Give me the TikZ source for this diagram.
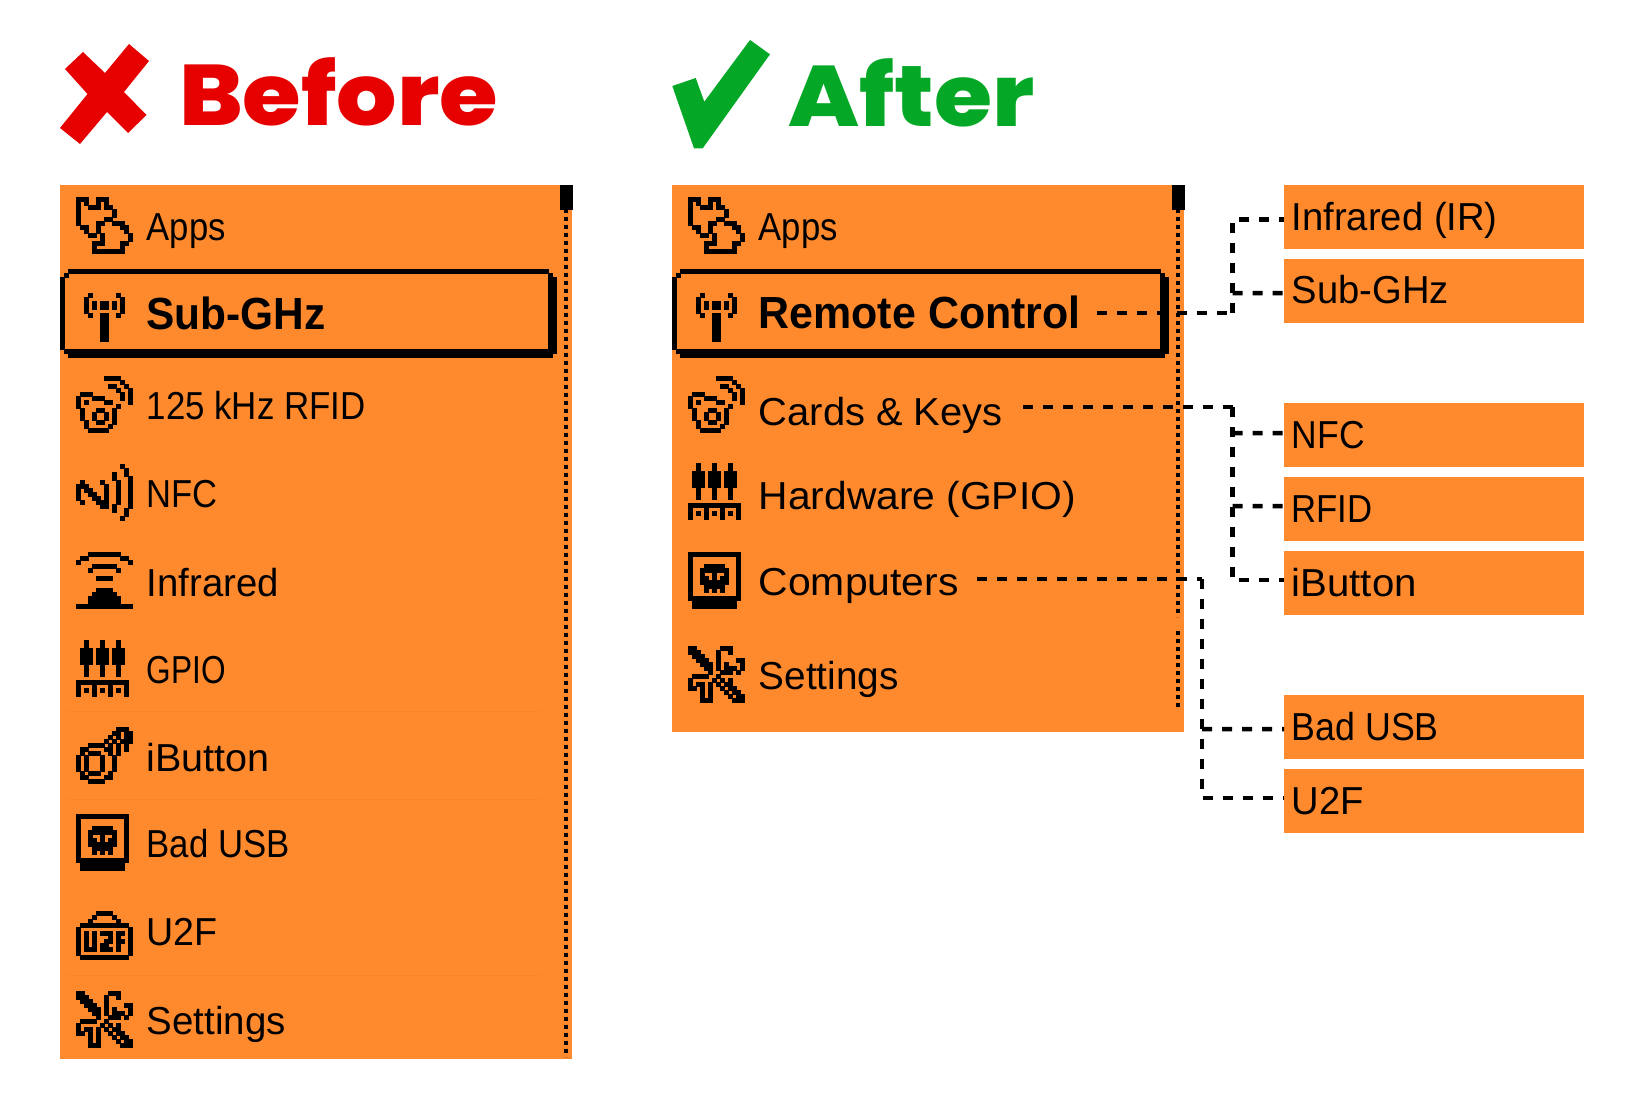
\documentclass[tikz,border=0pt]{standalone}
\usepackage{fontspec}
\usepackage{graphicx}
\setmainfont{Liberation Sans}
\newfontfamily\titlefont{Poppins ExtraBold}
\definecolor{panel}{HTML}{FF8A2E}
\definecolor{hair}{HTML}{F8852C}
\definecolor{xred}{HTML}{E60000}
\definecolor{okgreen}{HTML}{05A826}
\newcount\pxc
\def\pxscan#1{\ifx#1;\else\if#1X\fill[pixel] (\the\numexpr4*\pxc\relax,\the\numexpr4*\i\relax) rectangle ++(4,4);\fi\global\advance\pxc by 1 \expandafter\pxscan\fi}
\newcommand\pxicon[3]{\begin{scope}[shift={(#1,#2)}]\foreach \r [count=\i from 0] in {#3}{\global\pxc=0 \expandafter\pxscan\r;}\end{scope}}
\newcommand\fitw[2]{\resizebox{\dimexpr#1pt+3pt\relax}{\height}{#2}}
\newcommand\fitb[2]{\resizebox{\dimexpr#1pt+3pt\relax}{\height}{\bfseries #2}}
\newcommand\fitt[2]{\resizebox{#1pt}{\height}{#2}}
% icons
\newcommand\iapps[2]{\pxicon{#1}{#2}{XXXooXXXoooooo,XoXooXoXoooooo,XooXXXoXXooooo,XooooooooXoooo,XooooooooXoooo,XooooooXXooooo,XooooXXooXXXoo,oXXooXoooooXXo,ooXooXooooooXo,oooXXoXooooooX,ooooooXooooooX,ooooXXXooooXXo,ooooXooooooXoo,ooooXXXXXXXXoo}}
\newcommand\iant[2]{\pxicon{#1}{#2}{oXooooooXo,XooooooooX,XoXoXXoXoX,XoXoXXoXoX,XooooooooX,oXooXXooXo,ooooXXoooo,ooooXXoooo,ooooXXoooo,ooooXXoooo,ooooXXoooo,ooooXXoooo}}
\newcommand\irfid[2]{\pxicon{#1}{#2}{oooooooXXXXooo,oooooooooooXoo,ooooooooXXooXo,ooooooooooXooX,oXXXoooooooXoX,XoooXXXooooXoX,XoXooooXXooooX,XoooooooooXooo,oXoooXXooXoooo,oXooXooXoXoooo,oXooXooXoXoooo,ooXooXXooXoooo,ooXoooooXooooo,oooXXXXXoooooo}}
\newcommand\infc[2]{\pxicon{#1}{#2}{oooooooooooXoo,ooooooooooooXo,oooooooooXooXo,oooooooooXoooX,oXooooXoooXooX,XXXooooXooXooX,XoXXoooXooXooX,XooXXooXooXooX,XoooXXoXooXooX,oXoooXXXooXooX,ooooooXXoXoooX,oooooooooXooXo,ooooooooooooXo,oooooooooooXoo}}
\newcommand\iir[2]{\pxicon{#1}{#2}{oooXXXXXXXXooo,oXXooooooooXXo,XooooooooooooX,ooooXXXXXXoooo,oooXooooooXooo,o,oooooXXXXooooo,o,o,oooooXXXXooooo,ooooXXXXXXoooo,oooXXXXXXXXooo,oooXXXXXXXXooo,XXXXXXXXXXXXXX}}
\newcommand\igpio[2]{\pxicon{#1}{#2}{ooXoooXoooXoo,ooXoooXoooXoo,oXXXoXXXoXXXo,oXXXoXXXoXXXo,oXXXoXXXoXXXo,oXXXoXXXoXXXo,ooXoooXoooXoo,ooXoooXoooXoo,ooXoooXoooXoo,o,XXXXXXXXXXXXX,XoooXoooXoooX,XoXoXoXoXoXoX,XoooXoooXoooX}}
\newcommand\ibtn[2]{\pxicon{#1}{#2}{ooooooooooXXXo,oooooooooXXoXX,ooooooooXoXoXX,oooooooXoXoXXX,oooXXXXoXoXoXo,oXXooooXXoXoXo,oXoXXXooXoXooo,XoXoooXooXoooo,XoXoooXooXoooo,XoXoooXooXoooo,XoXoooXooXoooo,oXoXXXooXooooo,oXXooooXXooooo,oooXXXXooooooo}}
\newcommand\ibad[2]{\pxicon{#1}{#2}{XXXXXXXXXXXXX,XoooooooooooX,XoooooooooooX,XoooXXXXXoooX,XooXXXXXXXooX,XooXooXooXooX,XooXXoXoXXooX,XooXXXXXXXooX,XoooXXXXXoooX,XoooXoXoXoooX,XoooooooooooX,XXXXXXXXXXXXX,oXXXXXXXXXXXo,oXXXXXXXXXXXo}}
\newcommand\iuf[2]{\pxicon{#1}{#2}{oooooXXXXooooo,ooooXooooXoooo,oooXooooooXooo,oXXXXXXXXXXXXo,XooooooooooooX,XoXoXoXXXoXXoX,XoXoXoooXoXooX,XoXoXooXXoXXoX,XoXoXoXXooXooX,XoXXXoXXXoXooX,XooooooooooooX,oXXXXXXXXXXXXo}}
\newcommand\iset[2]{\pxicon{#1}{#2}{XXooooooXXXooo,XXXooooXooXooo,oXXXoooXoooooo,ooXXXooXooooXX,oooXXXoXoXoooX,ooooXXoXoXXXoX,oooooXooXXXoXo,oXXXXooXoooooo,XoooooXoXoXooo,XoXXoXoXoXXooo,XXoXoXooXoXXoo,oooXoXoooXoXXo,oooXoXooooXoXX,oooXXXoooooXXX}}
\newcommand\selframe[1]{\begin{scope}[xshift=#1pt]
\fill[pixel] (68,269) rectangle (548,273);
\fill[pixel] (64,273) rectangle (68,277);
\fill[pixel] (60,277) rectangle (64,349);
\fill[pixel] (64,349) rectangle (68,353);
\fill[pixel] (548,273) rectangle (552,277);
\fill[pixel] (548,277) rectangle (556,353);
\fill[pixel] (68,349) rectangle (552,357);
\end{scope}}
\tikzset{
 pixel/.style={fill=black,draw=black,line width=.15pt},
 menu/.style={anchor=base west,inner sep=0pt,xshift=-1.5pt,text=black,font=\fontsize{39}{39}\selectfont},
 menubold/.style={anchor=base west,inner sep=0pt,xshift=-1.5pt,text=black,font=\fontsize{45}{45}\selectfont},
 title/.style={anchor=base west,inner sep=0pt,font=\titlefont\fontsize{86}{86}\selectfont},
 panelbox/.style={fill=panel,draw=none},
 sidebox/.style={fill=panel,draw=none,inner sep=0pt,minimum width=300pt,minimum height=64pt,anchor=north west},
 conn/.style={draw=black,line width=4.5pt,dash pattern=on 10pt off 10pt},
 scrolldots/.style={draw=black,line width=4pt,dash pattern=on 4pt off 4pt},
 hairline/.style={draw=hair,line width=1pt}
}
\begin{document}
\begin{tikzpicture}[x=1pt,y=-1pt]
\useasboundingbox (0,0) rectangle (1644,1099);
% titles
\fill[xred] (83,52) -- (105,73) -- (129,44) -- (149,61) -- (124,92) -- (146.5,115) -- (128,133) -- (107,112) -- (80,144) -- (60,128) -- (87.5,94) -- (65,69) -- cycle;
\node[title,text=xred] (tbefore) at (179,126) {\fitt{319}{Before}};
\fill[okgreen] (750,40) -- (770,54.3) -- (702.7,148.3) -- (694,148.3) -- (672.3,86) -- (695.7,78) -- (704.3,101.7) -- cycle;
\node[title,text=okgreen] (tafter) at (788,126.5) {\fitt{246}{After}};
% before panel
\fill[panelbox] (60,185) rectangle (572,1058.5);
\draw[hairline] (68,711) -- (540,711);
\draw[hairline] (68,799) -- (540,799);
\draw[hairline] (68,975) -- (540,975);
\fill[pixel] (560,185) rectangle (572,209);
\draw[scrolldots] (566,209) -- (566,1057);
\iapps{76}{197}
\iant{84}{293}
\irfid{76}{376}
\infc{76}{464}
\iir{76}{552}
\igpio{76}{640}
\ibtn{76}{727}
\ibad{76}{814}
\iuf{76}{911}
\iset{76}{991}
\selframe{0}
\node[menu] (b1) at (148,241) {\fitw{76}{Apps}};
\node[menubold] (b2) at (148,329) {\fitb{176}{Sub-GHz}};
\node[menu] (b3) at (148,419) {\fitw{216}{125 kHz RFID}};
\node[menu] (b4) at (148,507) {\fitw{68}{NFC}};
\node[menu] (b5) at (148,596) {\fitw{129}{Infrared}};
\node[menu] (b6) at (148,683) {\fitw{76}{GPIO}};
\node[menu] (b7) at (148,771) {\fitw{120}{iButton}};
\node[menu] (b8) at (148,857) {\fitw{140}{Bad USB}};
\node[menu] (b9) at (148,945.5) {\fitw{68}{U2F}};
\node[menu] (b10) at (148,1034) {\fitw{136}{Settings}};
% after panel
\fill[panelbox] (672,185) rectangle (1184,731.5);
\fill[pixel] (1172,185) rectangle (1184,209);
\draw[scrolldots] (1178,209) -- (1178,617);
\draw[scrolldots] (1178,631) -- (1178,707);
\iapps{688}{197}
\iant{696}{293}
\irfid{688}{376}
\igpio{688}{463}
\ibad{688}{552}
\iset{688}{646}
\selframe{612}
\node[menu] (a1) at (760,241) {\fitw{76}{Apps}};
\node[menubold] (a2) at (760,328) {\fitb{319}{Remote Control}};
\node[menu] (a3) at (760,425) {\fitw{241}{Cards \& Keys}};
\node[menu] (a4) at (760,509) {\fitw{314}{Hardware (GPIO)}};
\node[menu] (a5) at (760,595) {\fitw{197}{Computers}};
\node[menu] (a6) at (760,689.5) {\fitw{137}{Settings}};
% side boxes
\node[sidebox] (s1) at (1284,185) {};
\node[sidebox] (s2) at (1284,259) {};
\node[sidebox] (s3) at (1284,403) {};
\node[sidebox] (s4) at (1284,477) {};
\node[sidebox] (s5) at (1284,551) {};
\node[sidebox] (s6) at (1284,695) {};
\node[sidebox] (s7) at (1284,769) {};
\node[menu] (l1) at (1293,231) {\fitw{203}{Infrared (IR)}};
\node[menu] (l2) at (1293,304) {\fitw{154}{Sub-GHz}};
\node[menu] (l3) at (1293,448) {\fitw{70}{NFC}};
\node[menu] (l4) at (1293,522.5) {\fitw{78}{RFID}};
\node[menu] (l5) at (1293,596.5) {\fitw{122}{iButton}};
\node[menu] (l6) at (1293,740.5) {\fitw{144}{Bad USB}};
\node[menu] (l7) at (1293,814) {\fitw{69}{U2F}};
% connectors
\coordinate (j1) at (1232.5,313);
\coordinate (j2) at (1232.5,407);
\coordinate (j3) at (1202,579);
\draw[conn] ([xshift=16pt]a2.base east |- j1) -- (j1);
\draw[conn] (j1) |- ([yshift=-2.3pt]s1.west);
\draw[conn] (j1 |- 0,293) -- ([yshift=-2pt]s2.west);
\draw[conn] ([xshift=20pt]a3.base east |- j2) -- (j2);
\draw[conn] (j2) |- ([yshift=3pt]s5.west);
\draw[conn] (j2 |- 0,433) -- ([yshift=2pt]s3.west);
\draw[conn] (j2 |- 0,506) -- ([yshift=3pt]s4.west);
\draw[conn] ([xshift=18pt]a5.base east |- j3) -- (j3);
\draw[conn] (j3) |- ([yshift=3pt]s7.west);
\draw[conn] (j3 |- 0,729) -- ([yshift=-2pt]s6.west);
\end{tikzpicture}
\end{document}
